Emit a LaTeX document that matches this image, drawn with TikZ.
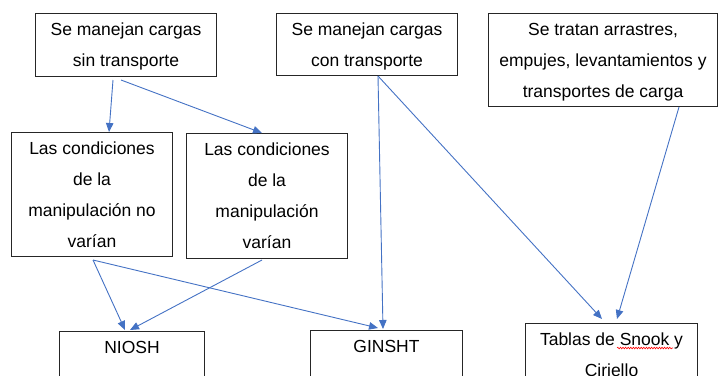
\documentclass[tikz,border=0pt]{standalone}
\usepackage{fontspec}
\setmainfont{Liberation Sans}
\usetikzlibrary{arrows.meta,calc,decorations.pathmorphing}
\definecolor{arrblue}{HTML}{4472C4}
\definecolor{boxline}{HTML}{262626}
\tikzset{
  box/.style={draw=boxline, line width=1pt, align=center, inner sep=0pt,
    anchor=north west, font=\fontsize{17.5}{31}\selectfont},
  arr/.style={draw=arrblue, line width=0.9pt, -{Triangle[length=9pt,width=7.5pt]}},
  squiggle/.style={draw=red, line width=0.6pt, decorate,
    decoration={snake, amplitude=0.8pt, segment length=2.6pt}}
}
\begin{document}
\begin{tikzpicture}[x=1pt,y=-1pt]
\useasboundingbox (0,0) rectangle (719,375);
\clip (0,0) rectangle (719,375);
\node[box, minimum width=181pt, minimum height=63pt] (A) at (35,13)
  {\strut Se manejan cargas\\\strut sin transporte};
\node[box, minimum width=181pt, minimum height=62pt] (B) at (276,13)
  {\strut Se manejan cargas\\\strut con transporte};
\node[box, minimum width=229pt, minimum height=92pt] (C) at (488,13)
  {\strut Se tratan arrastres,\\\strut empujes, levantamientos y\\\strut transportes de carga};
\node[box, minimum width=161pt, minimum height=124pt] (D) at (11,132)
  {\strut Las condiciones\\\strut de la\\\strut manipulación no\\\strut varían};
\node[box, minimum width=161pt, minimum height=125pt] (E) at (186,133)
  {\strut Las condiciones\\\strut de la\\\strut manipulación\\\strut varían};
\node[box, minimum width=145pt, minimum height=62pt] (N) at (59,331)
  {\strut NIOSH\\\strut};
\node[box, minimum width=152pt, minimum height=62pt] (G) at (310,330)
  {\strut GINSHT\\\strut};
\node[box, minimum width=172pt, minimum height=62pt] (T) at (525,323)
  {\strut Tablas de Snook y\\\strut Ciriello};
\draw[squiggle] ($(T.north west)+(92,25)$) -- ($(T.north west)+(148,25)$);
% connectors
\draw[arr] ($(A.south west)+(78,3)$) -- ($(D.north west)+(98,0)$);
\draw[arr] ($(A.south west)+(86,3)$) -- ($(E.north west)+(76,0)$);
\draw[arr] ($(B.south west)+(102,0)$) -- ($(G.north west)+(73,-1)$);
\draw[arr] ($(B.south west)+(102,0)$) -- ($(T.north west)+(77,-4)$);
\draw[arr] ($(C.south west)+(191,0)$) -- ($(T.north west)+(92,-4)$);
\draw[arr] ($(D.south west)+(82,3)$) -- ($(N.north west)+(66,-1)$);
\draw[arr] ($(D.south west)+(82,3)$) -- ($(G.north west)+(68,-2)$);
\draw[arr] ($(E.south west)+(76,1)$) -- ($(N.north west)+(71,-1)$);
\end{tikzpicture}
\end{document}
